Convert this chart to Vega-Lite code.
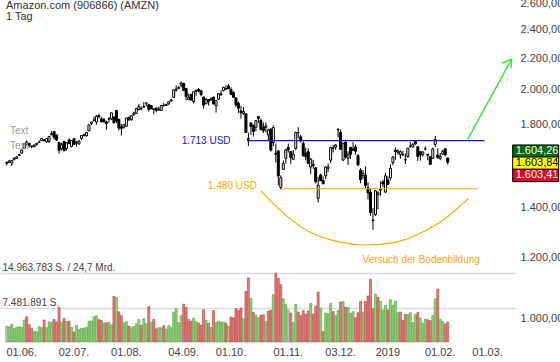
{
"$schema":"https://vega.github.io/schema/vega-lite/v6.json",
"width":516,"height":342,
"autosize":{"type":"none"},
"padding":{"left":0,"top":0,"right":44,"bottom":20},
"config":{"font":"Liberation Sans","view":{"stroke":null},"locale":{"number":{"decimal":",","thousands":".","grouping":[3],"currency":["",""]}}},
"datasets":{"k":[
{"date":"2018-05-24","i":-5,"o":1598.87,"h":1608.24,"l":1588.38,"c":1603.07,"v":3.43,"d":"flat"},
{"date":"2018-05-25","i":-4,"o":1603.0,"h":1614.12,"l":1600.45,"c":1610.15,"v":3.33,"d":"up"},
{"date":"2018-05-29","i":-3,"o":1600.71,"h":1614.15,"l":1586.21,"c":1612.87,"v":3.88,"d":"up"},
{"date":"2018-05-30","i":-2,"o":1618.1,"h":1626.0,"l":1612.93,"c":1624.89,"v":2.91,"d":"up"},
{"date":"2018-05-31","i":-1,"o":1623.0,"h":1635.0,"l":1621.35,"c":1629.62,"v":3.17,"d":"up"},
{"date":"2018-06-01","i":0,"o":1637.03,"h":1646.73,"l":1635.09,"c":1641.54,"v":3.31,"d":"up"},
{"date":"2018-06-04","i":1,"o":1648.9,"h":1665.68,"l":1645.49,"c":1665.27,"v":3.19,"d":"up"},
{"date":"2018-06-05","i":2,"o":1672.99,"h":1699.0,"l":1670.06,"c":1696.35,"v":4.78,"d":"up"},
{"date":"2018-06-06","i":3,"o":1704.51,"h":1714.5,"l":1686.47,"c":1695.75,"v":5.47,"d":"down"},
{"date":"2018-06-07","i":4,"o":1698.56,"h":1699.9,"l":1676.11,"c":1689.3,"v":3.77,"d":"down"},
{"date":"2018-06-08","i":5,"o":1681.12,"h":1689.44,"l":1673.01,"c":1683.99,"v":2.96,"d":"down"},
{"date":"2018-06-11","i":6,"o":1681.51,"h":1694.24,"l":1680.59,"c":1689.12,"v":2.34,"d":"up"},
{"date":"2018-06-12","i":7,"o":1693.0,"h":1699.51,"l":1686.52,"c":1698.75,"v":2.2,"d":"up"},
{"date":"2018-06-13","i":8,"o":1702.81,"h":1713.75,"l":1700.12,"c":1704.86,"v":3.33,"d":"up"},
{"date":"2018-06-14","i":9,"o":1713.48,"h":1724.8,"l":1708.87,"c":1723.86,"v":3.12,"d":"up"},
{"date":"2018-06-15","i":10,"o":1714.0,"h":1720.87,"l":1708.52,"c":1715.97,"v":4.78,"d":"down"},
{"date":"2018-06-18","i":11,"o":1706.26,"h":1726.74,"l":1702.56,"c":1723.79,"v":3.11,"d":"up"},
{"date":"2018-06-19","i":12,"o":1709.04,"h":1736.11,"l":1700.0,"c":1734.78,"v":4.37,"d":"up"},
{"date":"2018-06-20","i":13,"o":1742.5,"h":1762.93,"l":1741.36,"c":1750.08,"v":4.33,"d":"up"},
{"date":"2018-06-21","i":14,"o":1760.0,"h":1763.1,"l":1717.56,"c":1730.22,"v":4.94,"d":"down"},
{"date":"2018-06-22","i":15,"o":1742.62,"h":1743.0,"l":1711.9,"c":1715.67,"v":4.33,"d":"down"},
{"date":"2018-06-25","i":16,"o":1703.0,"h":1705.0,"l":1646.31,"c":1663.15,"v":7.54,"d":"down"},
{"date":"2018-06-26","i":17,"o":1672.37,"h":1701.57,"l":1664.0,"c":1691.09,"v":4.38,"d":"up"},
{"date":"2018-06-27","i":18,"o":1708.11,"h":1711.95,"l":1660.0,"c":1660.51,"v":5.07,"d":"down"},
{"date":"2018-06-28","i":19,"o":1672.54,"h":1705.5,"l":1661.17,"c":1701.45,"v":4.49,"d":"up"},
{"date":"2018-06-29","i":20,"o":1717.0,"h":1723.41,"l":1694.32,"c":1699.8,"v":4.54,"d":"down"},
{"date":"2018-07-02","i":21,"o":1682.7,"h":1713.89,"l":1678.06,"c":1713.78,"v":3.19,"d":"up"},
{"date":"2018-07-03","i":22,"o":1723.96,"h":1725.0,"l":1692.48,"c":1693.96,"v":2.18,"d":"down"},
{"date":"2018-07-05","i":23,"o":1705.38,"h":1710.69,"l":1682.15,"c":1699.73,"v":3.59,"d":"up"},
{"date":"2018-07-06","i":24,"o":1696.0,"h":1715.27,"l":1691.67,"c":1710.63,"v":2.65,"d":"up"},
{"date":"2018-07-09","i":25,"o":1724.05,"h":1739.67,"l":1716.36,"c":1739.02,"v":2.98,"d":"up"},
{"date":"2018-07-10","i":26,"o":1738.53,"h":1750.0,"l":1736.0,"c":1743.07,"v":3.02,"d":"up"},
{"date":"2018-07-11","i":27,"o":1737.99,"h":1756.96,"l":1734.0,"c":1755.0,"v":3.21,"d":"up"},
{"date":"2018-07-12","i":28,"o":1764.51,"h":1798.0,"l":1762.18,"c":1796.62,"v":4.53,"d":"up"},
{"date":"2018-07-13","i":29,"o":1803.93,"h":1815.3,"l":1795.23,"c":1813.03,"v":4.59,"d":"up"},
{"date":"2018-07-16","i":30,"o":1821.95,"h":1841.95,"l":1814.45,"c":1822.49,"v":5.47,"d":"up"},
{"date":"2018-07-17","i":31,"o":1811.56,"h":1851.69,"l":1797.38,"c":1843.93,"v":5.68,"d":"up"},
{"date":"2018-07-18","i":32,"o":1848.0,"h":1858.88,"l":1831.02,"c":1842.92,"v":4.86,"d":"down"},
{"date":"2018-07-19","i":33,"o":1829.46,"h":1841.0,"l":1811.27,"c":1812.97,"v":4.68,"d":"down"},
{"date":"2018-07-20","i":34,"o":1825.01,"h":1834.84,"l":1810.06,"c":1813.7,"v":4.13,"d":"up"},
{"date":"2018-07-23","i":35,"o":1812.21,"h":1819.0,"l":1769.99,"c":1802.0,"v":4.17,"d":"down"},
{"date":"2018-07-24","i":36,"o":1829.01,"h":1840.0,"l":1809.38,"c":1829.24,"v":4.28,"d":"up"},
{"date":"2018-07-25","i":37,"o":1829.3,"h":1863.84,"l":1822.64,"c":1863.61,"v":3.74,"d":"up"},
{"date":"2018-07-26","i":38,"o":1839.0,"h":1844.68,"l":1804.5,"c":1808.0,"v":9.92,"d":"down"},
{"date":"2018-07-27","i":39,"o":1876.05,"h":1880.05,"l":1806.53,"c":1817.27,"v":9.68,"d":"up"},
{"date":"2018-07-30","i":40,"o":1827.33,"h":1829.5,"l":1766.02,"c":1779.22,"v":6.56,"d":"down"},
{"date":"2018-07-31","i":41,"o":1786.49,"h":1801.83,"l":1739.32,"c":1777.44,"v":5.74,"d":"down"},
{"date":"2018-08-01","i":42,"o":1784.0,"h":1798.44,"l":1776.02,"c":1797.17,"v":4.15,"d":"up"},
{"date":"2018-08-02","i":43,"o":1788.77,"h":1836.56,"l":1786.0,"c":1834.33,"v":4.42,"d":"up"},
{"date":"2018-08-03","i":44,"o":1837.74,"h":1841.0,"l":1821.5,"c":1823.29,"v":3.46,"d":"down"},
{"date":"2018-08-06","i":45,"o":1825.81,"h":1847.77,"l":1818.92,"c":1847.75,"v":3.11,"d":"up"},
{"date":"2018-08-07","i":46,"o":1854.53,"h":1869.72,"l":1846.27,"c":1862.48,"v":3.38,"d":"up"},
{"date":"2018-08-08","i":47,"o":1861.0,"h":1891.51,"l":1857.63,"c":1886.52,"v":3.96,"d":"up"},
{"date":"2018-08-09","i":48,"o":1882.0,"h":1914.57,"l":1877.48,"c":1898.52,"v":4.86,"d":"up"},
{"date":"2018-08-10","i":49,"o":1888.51,"h":1899.5,"l":1878.21,"c":1886.3,"v":3.64,"d":"down"},
{"date":"2018-08-13","i":50,"o":1898.5,"h":1925.0,"l":1893.67,"c":1896.2,"v":5.06,"d":"up"},
{"date":"2018-08-14","i":51,"o":1919.39,"h":1921.01,"l":1900.0,"c":1919.65,"v":3.99,"d":"up"},
{"date":"2018-08-15","i":52,"o":1909.55,"h":1916.21,"l":1869.79,"c":1882.62,"v":7.7,"d":"down"},
{"date":"2018-08-16","i":53,"o":1903.94,"h":1905.0,"l":1883.55,"c":1886.52,"v":4.29,"d":"up"},
{"date":"2018-08-17","i":54,"o":1885.8,"h":1888.0,"l":1855.55,"c":1882.22,"v":4.94,"d":"down"},
{"date":"2018-08-20","i":55,"o":1890.57,"h":1891.75,"l":1866.06,"c":1876.71,"v":2.87,"d":"down"},
{"date":"2018-08-21","i":56,"o":1880.0,"h":1897.75,"l":1874.41,"c":1883.42,"v":3.11,"d":"up"},
{"date":"2018-08-22","i":57,"o":1876.64,"h":1905.8,"l":1876.64,"c":1904.9,"v":3.09,"d":"up"},
{"date":"2018-08-23","i":58,"o":1907.17,"h":1919.5,"l":1900.76,"c":1902.9,"v":3.55,"d":"down"},
{"date":"2018-08-24","i":59,"o":1910.51,"h":1916.01,"l":1902.54,"c":1905.39,"v":2.8,"d":"up"},
{"date":"2018-08-27","i":60,"o":1915.0,"h":1927.7,"l":1909.28,"c":1927.68,"v":3.57,"d":"up"},
{"date":"2018-08-28","i":61,"o":1937.73,"h":1941.78,"l":1928.82,"c":1932.82,"v":3.1,"d":"up"},
{"date":"2018-08-29","i":62,"o":1953.45,"h":1998.69,"l":1948.94,"c":1998.1,"v":6.53,"d":"up"},
{"date":"2018-08-30","i":63,"o":1997.42,"h":2025.57,"l":1986.9,"c":2002.38,"v":7.28,"d":"up"},
{"date":"2018-08-31","i":64,"o":2007.0,"h":2022.38,"l":2004.74,"c":2012.71,"v":4.2,"d":"up"},
{"date":"2018-09-04","i":65,"o":2026.5,"h":2050.5,"l":2013.0,"c":2039.51,"v":5.72,"d":"up"},
{"date":"2018-09-05","i":66,"o":2038.11,"h":2040.38,"l":1989.89,"c":1994.82,"v":8.22,"d":"down"},
{"date":"2018-09-06","i":67,"o":2006.51,"h":2007.5,"l":1935.21,"c":1958.31,"v":7.49,"d":"down"},
{"date":"2018-09-07","i":68,"o":1938.71,"h":1975.2,"l":1937.35,"c":1952.07,"v":4.89,"d":"down"},
{"date":"2018-09-10","i":69,"o":1971.0,"h":1973.04,"l":1931.52,"c":1939.01,"v":4.54,"d":"down"},
{"date":"2018-09-11","i":70,"o":1928.27,"h":1988.88,"l":1917.0,"c":1987.15,"v":5.19,"d":"up"},
{"date":"2018-09-12","i":71,"o":1994.0,"h":2000.0,"l":1962.44,"c":1990.0,"v":4.41,"d":"up"},
{"date":"2018-09-13","i":72,"o":2000.0,"h":2008.76,"l":1983.03,"c":1989.87,"v":4.13,"d":"down"},
{"date":"2018-09-14","i":73,"o":1992.93,"h":1993.65,"l":1959.22,"c":1970.19,"v":3.64,"d":"down"},
{"date":"2018-09-17","i":74,"o":1954.73,"h":1956.82,"l":1887.41,"c":1908.03,"v":7.05,"d":"down"},
{"date":"2018-09-18","i":75,"o":1915.0,"h":1948.0,"l":1915.0,"c":1941.05,"v":4.73,"d":"up"},
{"date":"2018-09-19","i":76,"o":1940.5,"h":1940.83,"l":1904.9,"c":1926.42,"v":4.06,"d":"down"},
{"date":"2018-09-20","i":77,"o":1938.58,"h":1955.0,"l":1932.25,"c":1944.3,"v":3.15,"d":"up"},
{"date":"2018-09-21","i":78,"o":1954.22,"h":1957.31,"l":1910.5,"c":1915.01,"v":6.86,"d":"down"},
{"date":"2018-09-24","i":79,"o":1903.79,"h":1936.88,"l":1865.0,"c":1934.36,"v":4.21,"d":"up"},
{"date":"2018-09-25","i":80,"o":1942.9,"h":1975.91,"l":1938.85,"c":1974.55,"v":4.54,"d":"up"},
{"date":"2018-09-26","i":81,"o":1968.35,"h":1995.25,"l":1961.52,"c":1974.85,"v":4.31,"d":"up"},
{"date":"2018-09-27","i":82,"o":1993.24,"h":2016.16,"l":1988.58,"c":2012.98,"v":4.33,"d":"up"},
{"date":"2018-09-28","i":83,"o":2004.41,"h":2026.52,"l":1996.46,"c":2003.0,"v":4.09,"d":"down"},
{"date":"2018-10-01","i":84,"o":2021.99,"h":2033.19,"l":2003.6,"c":2004.36,"v":3.46,"d":"up"},
{"date":"2018-10-02","i":85,"o":1999.99,"h":2013.39,"l":1965.77,"c":1971.31,"v":5.4,"d":"down"},
{"date":"2018-10-03","i":86,"o":1981.7,"h":1989.7,"l":1949.81,"c":1952.76,"v":5.25,"d":"down"},
{"date":"2018-10-04","i":87,"o":1949.0,"h":1956.0,"l":1896.57,"c":1909.42,"v":7.26,"d":"down"},
{"date":"2018-10-05","i":88,"o":1917.99,"h":1929.08,"l":1862.83,"c":1889.65,"v":6.91,"d":"down"},
{"date":"2018-10-08","i":89,"o":1874.0,"h":1902.0,"l":1830.66,"c":1864.42,"v":7.39,"d":"down"},
{"date":"2018-10-09","i":90,"o":1859.99,"h":1896.68,"l":1852.32,"c":1870.32,"v":5.09,"d":"up"},
{"date":"2018-10-10","i":91,"o":1857.89,"h":1858.56,"l":1754.41,"c":1755.25,"v":10.99,"d":"down"},
{"date":"2018-10-11","i":92,"o":1724.0,"h":1755.4,"l":1685.1,"c":1719.36,"v":13.94,"d":"down"},
{"date":"2018-10-12","i":93,"o":1808.0,"h":1808.95,"l":1742.53,"c":1788.61,"v":9.45,"d":"up"},
{"date":"2018-10-15","i":94,"o":1795.0,"h":1795.05,"l":1734.23,"c":1760.95,"v":6.44,"d":"down"},
{"date":"2018-10-16","i":95,"o":1783.5,"h":1823.88,"l":1761.55,"c":1819.96,"v":5.86,"d":"up"},
{"date":"2018-10-17","i":96,"o":1842.79,"h":1845.0,"l":1807.0,"c":1831.73,"v":5.3,"d":"up"},
{"date":"2018-10-18","i":97,"o":1821.49,"h":1830.15,"l":1767.87,"c":1770.72,"v":5.87,"d":"down"},
{"date":"2018-10-19","i":98,"o":1785.16,"h":1809.1,"l":1753.0,"c":1764.03,"v":5.91,"d":"down"},
{"date":"2018-10-22","i":99,"o":1784.0,"h":1809.5,"l":1756.0,"c":1789.3,"v":4.5,"d":"up"},
{"date":"2018-10-23","i":100,"o":1742.24,"h":1776.34,"l":1714.0,"c":1768.7,"v":6.72,"d":"down"},
{"date":"2018-10-24","i":101,"o":1773.7,"h":1777.71,"l":1656.56,"c":1664.2,"v":6.93,"d":"down"},
{"date":"2018-10-25","i":102,"o":1703.34,"h":1794.81,"l":1685.0,"c":1782.17,"v":10.29,"d":"up"},
{"date":"2018-10-26","i":103,"o":1649.59,"h":1698.46,"l":1603.0,"c":1642.81,"v":14.96,"d":"down"},
{"date":"2018-10-29","i":104,"o":1660.0,"h":1665.0,"l":1495.0,"c":1538.88,"v":13.87,"d":"down"},
{"date":"2018-10-30","i":105,"o":1486.16,"h":1540.99,"l":1476.36,"c":1530.42,"v":12.46,"d":"down"},
{"date":"2018-10-31","i":106,"o":1569.99,"h":1612.88,"l":1567.39,"c":1598.01,"v":9.39,"d":"up"},
{"date":"2018-11-01","i":107,"o":1623.53,"h":1670.45,"l":1598.44,"c":1665.53,"v":8.14,"d":"up"},
{"date":"2018-11-02","i":108,"o":1678.59,"h":1697.44,"l":1651.83,"c":1665.53,"v":6.96,"d":"flat"},
{"date":"2018-11-05","i":109,"o":1657.57,"h":1658.09,"l":1596.36,"c":1627.8,"v":6.31,"d":"down"},
{"date":"2018-11-06","i":110,"o":1618.35,"h":1665.0,"l":1614.55,"c":1642.81,"v":4.26,"d":"up"},
{"date":"2018-11-07","i":111,"o":1673.0,"h":1759.23,"l":1664.08,"c":1755.49,"v":8.19,"d":"up"},
{"date":"2018-11-08","i":112,"o":1755.0,"h":1784.0,"l":1725.11,"c":1754.91,"v":6.53,"d":"down"},
{"date":"2018-11-09","i":113,"o":1732.5,"h":1743.92,"l":1701.87,"c":1712.43,"v":5.74,"d":"down"},
{"date":"2018-11-12","i":114,"o":1698.24,"h":1708.55,"l":1630.01,"c":1636.85,"v":6.81,"d":"down"},
{"date":"2018-11-13","i":115,"o":1649.29,"h":1677.06,"l":1613.75,"c":1631.17,"v":6.05,"d":"down"},
{"date":"2018-11-14","i":116,"o":1656.32,"h":1673.0,"l":1597.07,"c":1599.01,"v":6.72,"d":"down"},
{"date":"2018-11-15","i":117,"o":1581.01,"h":1624.82,"l":1546.51,"c":1619.44,"v":8.41,"d":"up"},
{"date":"2018-11-16","i":118,"o":1587.5,"h":1614.48,"l":1573.12,"c":1593.41,"v":6.07,"d":"down"},
{"date":"2018-11-19","i":119,"o":1577.01,"h":1581.19,"l":1503.36,"c":1512.29,"v":7.79,"d":"down"},
{"date":"2018-11-20","i":120,"o":1437.5,"h":1534.75,"l":1420.0,"c":1495.46,"v":10.88,"d":"down"},
{"date":"2018-11-21","i":121,"o":1542.99,"h":1550.0,"l":1515.0,"c":1516.73,"v":7.4,"d":"up"},
{"date":"2018-11-23","i":122,"o":1517.0,"h":1536.2,"l":1501.81,"c":1502.06,"v":2.27,"d":"down"},
{"date":"2018-11-26","i":123,"o":1539.0,"h":1584.81,"l":1524.22,"c":1581.33,"v":6.26,"d":"up"},
{"date":"2018-11-27","i":124,"o":1575.0,"h":1597.65,"l":1558.01,"c":1581.42,"v":6.12,"d":"up"},
{"date":"2018-11-28","i":125,"o":1613.92,"h":1681.45,"l":1601.21,"c":1677.75,"v":8.4,"d":"up"},
{"date":"2018-11-29","i":126,"o":1674.99,"h":1689.99,"l":1652.33,"c":1673.57,"v":6.61,"d":"down"},
{"date":"2018-11-30","i":127,"o":1679.5,"h":1696.0,"l":1666.5,"c":1690.17,"v":5.76,"d":"up"},
{"date":"2018-12-03","i":128,"o":1769.46,"h":1778.34,"l":1730.0,"c":1772.36,"v":6.86,"d":"up"},
{"date":"2018-12-04","i":129,"o":1756.0,"h":1770.34,"l":1665.0,"c":1668.4,"v":8.69,"d":"down"},
{"date":"2018-12-06","i":130,"o":1614.87,"h":1701.05,"l":1609.85,"c":1699.19,"v":8.79,"d":"up"},
{"date":"2018-12-07","i":131,"o":1705.07,"h":1718.93,"l":1623.0,"c":1629.13,"v":7.58,"d":"down"},
{"date":"2018-12-10","i":132,"o":1623.84,"h":1657.99,"l":1590.87,"c":1641.03,"v":7.49,"d":"up"},
{"date":"2018-12-11","i":133,"o":1678.0,"h":1679.47,"l":1619.6,"c":1643.24,"v":6.24,"d":"up"},
{"date":"2018-12-12","i":134,"o":1669.0,"h":1704.99,"l":1660.27,"c":1663.54,"v":6.6,"d":"up"},
{"date":"2018-12-13","i":135,"o":1680.0,"h":1692.12,"l":1641.5,"c":1658.38,"v":5.27,"d":"down"},
{"date":"2018-12-14","i":136,"o":1638.0,"h":1642.57,"l":1585.0,"c":1591.91,"v":6.37,"d":"down"},
{"date":"2018-12-17","i":137,"o":1566.0,"h":1576.13,"l":1505.01,"c":1520.91,"v":8.83,"d":"down"},
{"date":"2018-12-18","i":138,"o":1540.0,"h":1567.55,"l":1523.01,"c":1551.48,"v":6.52,"d":"up"},
{"date":"2018-12-19","i":139,"o":1543.05,"h":1584.53,"l":1483.18,"c":1495.08,"v":8.79,"d":"down"},
{"date":"2018-12-20","i":140,"o":1484.0,"h":1509.5,"l":1432.69,"c":1460.83,"v":9.99,"d":"down"},
{"date":"2018-12-21","i":141,"o":1464.99,"h":1480.0,"l":1363.96,"c":1377.45,"v":13.64,"d":"down"},
{"date":"2018-12-24","i":142,"o":1346.0,"h":1396.03,"l":1307.0,"c":1343.96,"v":7.22,"d":"down"},
{"date":"2018-12-26","i":143,"o":1368.89,"h":1473.16,"l":1363.01,"c":1470.9,"v":10.41,"d":"up"},
{"date":"2018-12-27","i":144,"o":1454.2,"h":1469.0,"l":1390.31,"c":1461.64,"v":9.72,"d":"down"},
{"date":"2018-12-28","i":145,"o":1473.35,"h":1513.47,"l":1449.0,"c":1478.02,"v":8.83,"d":"up"},
{"date":"2018-12-31","i":146,"o":1510.8,"h":1520.76,"l":1487.0,"c":1501.97,"v":6.95,"d":"up"},
{"date":"2019-01-02","i":147,"o":1465.2,"h":1553.36,"l":1460.93,"c":1539.13,"v":7.98,"d":"up"},
{"date":"2019-01-03","i":148,"o":1520.01,"h":1538.0,"l":1497.11,"c":1500.28,"v":6.98,"d":"down"},
{"date":"2019-01-04","i":149,"o":1530.0,"h":1594.0,"l":1518.31,"c":1575.39,"v":9.18,"d":"up"},
{"date":"2019-01-07","i":150,"o":1602.31,"h":1634.56,"l":1589.19,"c":1629.51,"v":7.99,"d":"up"},
{"date":"2019-01-08","i":151,"o":1664.69,"h":1676.61,"l":1616.61,"c":1656.58,"v":8.88,"d":"up"},
{"date":"2019-01-09","i":152,"o":1652.98,"h":1667.8,"l":1641.4,"c":1659.42,"v":6.35,"d":"up"},
{"date":"2019-01-10","i":153,"o":1641.01,"h":1663.25,"l":1621.62,"c":1656.22,"v":6.51,"d":"down"},
{"date":"2019-01-11","i":154,"o":1640.55,"h":1660.29,"l":1636.22,"c":1640.56,"v":4.69,"d":"down"},
{"date":"2019-01-14","i":155,"o":1615.0,"h":1648.2,"l":1595.15,"c":1617.21,"v":6.01,"d":"down"},
{"date":"2019-01-15","i":156,"o":1632.0,"h":1675.16,"l":1626.01,"c":1674.56,"v":5.99,"d":"up"},
{"date":"2019-01-16","i":157,"o":1684.22,"h":1705.0,"l":1675.88,"c":1683.78,"v":6.37,"d":"up"},
{"date":"2019-01-17","i":158,"o":1680.0,"h":1700.17,"l":1677.5,"c":1693.22,"v":4.21,"d":"up"},
{"date":"2019-01-18","i":159,"o":1712.0,"h":1716.2,"l":1691.54,"c":1696.2,"v":6.02,"d":"up"},
{"date":"2019-01-22","i":160,"o":1681.0,"h":1681.87,"l":1610.2,"c":1632.17,"v":6.42,"d":"down"},
{"date":"2019-01-23","i":161,"o":1656.0,"h":1657.43,"l":1612.0,"c":1640.02,"v":5.23,"d":"up"},
{"date":"2019-01-24","i":162,"o":1641.07,"h":1657.26,"l":1631.78,"c":1654.93,"v":4.09,"d":"up"},
{"date":"2019-01-25","i":163,"o":1670.5,"h":1683.48,"l":1661.61,"c":1670.57,"v":4.95,"d":"up"},
{"date":"2019-01-28","i":164,"o":1643.59,"h":1645.0,"l":1614.09,"c":1637.89,"v":4.84,"d":"down"},
{"date":"2019-01-29","i":165,"o":1631.27,"h":1632.38,"l":1590.72,"c":1593.88,"v":4.63,"d":"down"},
{"date":"2019-01-30","i":166,"o":1623.0,"h":1676.95,"l":1619.68,"c":1670.43,"v":5.78,"d":"up"},
{"date":"2019-01-31","i":167,"o":1692.85,"h":1736.41,"l":1679.08,"c":1718.73,"v":9.4,"d":"up"},
{"date":"2019-02-01","i":168,"o":1638.88,"h":1673.06,"l":1622.01,"c":1626.23,"v":11.51,"d":"down"},
{"date":"2019-02-04","i":169,"o":1623.0,"h":1649.63,"l":1613.5,"c":1633.31,"v":4.93,"d":"up"},
{"date":"2019-02-05","i":170,"o":1643.34,"h":1665.26,"l":1642.5,"c":1658.81,"v":4.45,"d":"up"},
{"date":"2019-02-06","i":171,"o":1670.75,"h":1672.26,"l":1633.34,"c":1640.26,"v":3.94,"d":"down"},
{"date":"2019-02-07","i":172,"o":1625.0,"h":1625.54,"l":1592.91,"c":1604.0,"v":4.35,"d":"down"}
]},
"encoding":{
 "x":{"field":"i","type":"quantitative","scale":{"domain":[-5.71,197.4],"nice":false,"zero":false},
      "axis":{"values":[0,21,42,65,84,107,128,147,168,187],
              "labelExpr":"['01.06.','02.07.','01.08.','04.09.','01.10.','01.11.','03.12.','2019','01.02.','01.03.'][indexof([0,21,42,65,84,107,128,147,168,187], datum.value)]",
              "grid":false,"ticks":false,"tickSize":0,"domain":false,"labelPadding":4,"labelFontSize":11,"labelColor":"#444","labelOverlap":false,"labelFlush":false,"labelOffset":2,"title":null}}
},
"layer":[
{"data":{"name":"k"},
 "mark":{"type":"bar","size":2,"strokeWidth":0.6},
 "encoding":{
  "y":{"field":"v","type":"quantitative","scale":{"domain":[0,74.4],"nice":false},
       "axis":{"orient":"left","values":[7.481891,14.963783],"grid":true,"gridColor":"#dcdcdc","gridWidth":1.5,"ticks":false,"tickSize":0,"domain":false,
               "labelAlign":"left","labelBaseline":"alphabetic","labelPadding":-2,"labelOffset":-2.5,"labelFontSize":10,"labelColor":"#444","labelOverlap":false,
               "labelExpr":"datum.value > 10 ? '14.963.783 S. / 24,7 Mrd.' : '7.481.891 S.'","title":null}},
  "fill":{"field":"d","type":"nominal","scale":{"domain":["up","down","flat"],"range":["#93d27c","#e57c7c","#c4c4c4"]},"legend":null},
  "stroke":{"field":"d","type":"nominal","scale":{"domain":["up","down","flat"],"range":["#4f9c3d","#b53c3c","#8a8a8a"]},"legend":null}
 }},
{"layer":[
 {"data":{"name":"k"},
  "mark":{"type":"rule","color":"black","strokeWidth":1},
  "encoding":{
   "y":{"field":"l","type":"quantitative","scale":{"type":"log","domain":[929.8,2624],"nice":false},
        "axis":{"orient":"right","values":[1000,1200,1400,1800,2000,2200,2400,2600],"format":",.2f","ticks":false,"tickSize":0,"domain":false,"grid":false,"labelPadding":4,"labelFontSize":11,"labelColor":"#444","labelOverlap":false,"labelFlush":false,"title":null}},
   "y2":{"field":"h"}
  }},
 {"data":{"name":"k"},
  "mark":{"type":"bar","size":2,"stroke":"black","strokeWidth":1},
  "encoding":{
   "y":{"field":"o","type":"quantitative","scale":{"type":"log","domain":[929.8,2624],"nice":false}},
   "y2":{"field":"c"},
   "fill":{"condition":{"test":"datum.c > datum.o","value":"white"},"value":"black"}
  }},
 {"data":{"values":[{"i":91.4,"i2":186.8,"p":1713}]},
  "mark":{"type":"rule","color":"#1414cc","strokeWidth":1.2},
  "encoding":{
   "x2":{"field":"i2"},
   "y":{"field":"p","type":"quantitative","scale":{"type":"log","domain":[929.8,2624],"nice":false}}
  }},
 {"data":{"values":[{"i":105.2,"i2":183.9,"p":1480}]},
  "mark":{"type":"rule","color":"#ffa500","strokeWidth":1.2},
  "encoding":{
   "x2":{"field":"i2"},
   "y":{"field":"p","type":"quantitative","scale":{"type":"log","domain":[929.8,2624],"nice":false}}
  }},
 {"data":{"values":[{"i":96.9,"p":1471.6},{"i":101.9,"p":1416},{"i":108.5,"p":1353},{"i":117.6,"p":1293},{"i":128.2,"p":1260},{"i":140.0,"p":1248},{"i":150.5,"p":1257},{"i":160.9,"p":1293},{"i":170.2,"p":1346},{"i":176.7,"p":1402},{"i":180.4,"p":1438}]},
  "mark":{"type":"line","interpolate":"monotone","color":"#ffa500","strokeWidth":1.2},
  "encoding":{
   "y":{"field":"p","type":"quantitative","scale":{"type":"log","domain":[929.8,2624],"nice":false}}
  }},
 {"data":{"values":[{"i":180.0,"p":1719.5,"i2":197.7,"p2":2194},{"i":193.8,"p":2166,"i2":197.7,"p2":2194},{"i":197.4,"p":2133,"i2":197.7,"p2":2194}]},
  "mark":{"type":"rule","color":"#3ee63e","strokeWidth":1.5},
  "encoding":{
   "x2":{"field":"i2"},
   "y":{"field":"p","type":"quantitative","scale":{"type":"log","domain":[929.8,2624],"nice":false}},
   "y2":{"field":"p2"}
  }},
 {"data":{"values":[{"i":-5.3,"p":2576,"t":"Amazon.com (906866) (AMZN)"},{"i":-5.3,"p":2489,"t":"1 Tag"}]},
  "mark":{"type":"text","align":"left","baseline":"middle","fontSize":11,"color":"#333"},
  "encoding":{
   "y":{"field":"p","type":"quantitative","scale":{"type":"log","domain":[929.8,2624],"nice":false}},
   "text":{"field":"t"}
  }},
 {"data":{"values":[{"i":-3.74,"p":1764,"t":"Text"},{"i":-3.74,"p":1687,"t":"Text"}]},
  "mark":{"type":"text","align":"left","baseline":"middle","fontSize":10,"color":"#999"},
  "encoding":{
   "y":{"field":"p","type":"quantitative","scale":{"type":"log","domain":[929.8,2624],"nice":false}},
   "text":{"field":"t"}
  }},
 {"data":{"values":[{"i":65.2,"p":1713,"t":"1.713 USD"}]},
  "mark":{"type":"text","align":"left","baseline":"middle","fontSize":10,"color":"#1414cc"},
  "encoding":{
   "y":{"field":"p","type":"quantitative","scale":{"type":"log","domain":[929.8,2624],"nice":false}},
   "text":{"field":"t"}
  }},
 {"data":{"values":[{"i":75.8,"p":1494,"t":"1.480 USD"},{"i":137.8,"p":1192.6,"t":"Versuch der Bodenbildung"}]},
  "mark":{"type":"text","align":"left","baseline":"middle","fontSize":10,"color":"#ffa500"},
  "encoding":{
   "y":{"field":"p","type":"quantitative","scale":{"type":"log","domain":[929.8,2624],"nice":false}},
   "text":{"field":"t"}
  }},
 {"data":{"values":[{"i":207.3,"p":1604.26}]},
  "layer":[
   {"mark":{"type":"point","shape":"M-1,-0.272L1,-0.272L1,0.272L-1,0.272Z","size":2116,"filled":true,"fill":"#006a00","stroke":"black","strokeWidth":1,"opacity":1,"yOffset":-11},
    "encoding":{
     "y":{"field":"p","type":"quantitative","scale":{"type":"log","domain":[929.8,2624],"nice":false}}}},
   {"mark":{"type":"text","align":"left","baseline":"middle","fontSize":11,"color":"white","dx":-20,"dy":-11},
    "encoding":{
     "y":{"field":"p","type":"quantitative","scale":{"type":"log","domain":[929.8,2624],"nice":false}},
     "text":{"field":"p","type":"quantitative","format":",.2f"}}}
  ]},
 {"data":{"values":[{"i":207.3,"p":1603.84}]},
  "layer":[
   {"mark":{"type":"point","shape":"M-1,-0.272L1,-0.272L1,0.272L-1,0.272Z","size":2116,"filled":true,"fill":"#ffff00","stroke":"black","strokeWidth":1,"opacity":1,"yOffset":1},
    "encoding":{
     "y":{"field":"p","type":"quantitative","scale":{"type":"log","domain":[929.8,2624],"nice":false}}}},
   {"mark":{"type":"text","align":"left","baseline":"middle","fontSize":11,"color":"black","dx":-20,"dy":1},
    "encoding":{
     "y":{"field":"p","type":"quantitative","scale":{"type":"log","domain":[929.8,2624],"nice":false}},
     "text":{"field":"p","type":"quantitative","format":",.2f"}}}
  ]},
 {"data":{"values":[{"i":207.3,"p":1603.41}]},
  "layer":[
   {"mark":{"type":"point","shape":"M-1,-0.272L1,-0.272L1,0.272L-1,0.272Z","size":2116,"filled":true,"fill":"#dd0a22","stroke":"black","strokeWidth":1,"opacity":1,"yOffset":13},
    "encoding":{
     "y":{"field":"p","type":"quantitative","scale":{"type":"log","domain":[929.8,2624],"nice":false}}}},
   {"mark":{"type":"text","align":"left","baseline":"middle","fontSize":11,"color":"white","dx":-20,"dy":13},
    "encoding":{
     "y":{"field":"p","type":"quantitative","scale":{"type":"log","domain":[929.8,2624],"nice":false}},
     "text":{"field":"p","type":"quantitative","format":",.2f"}}}
  ]}
]}
],
"resolve":{"scale":{"y":"independent"},"axis":{"y":"independent"}}
}
